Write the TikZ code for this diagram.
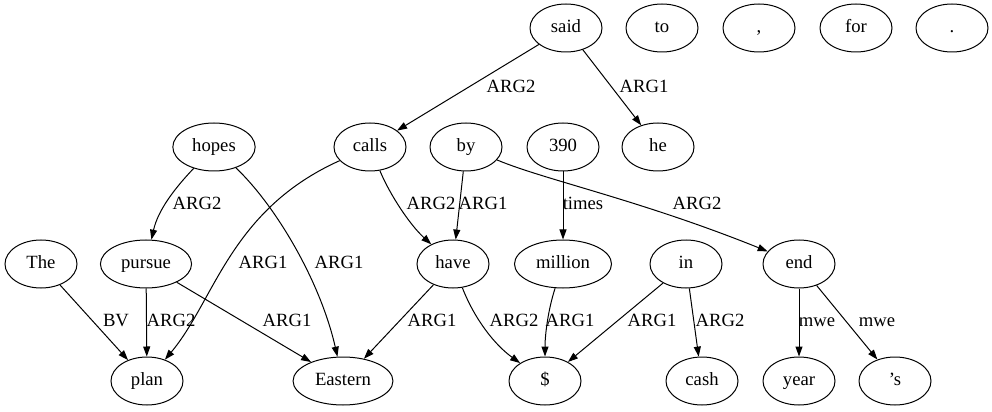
\documentclass[tikz,border=0pt]{standalone}
\usepackage{fontspec}
\setmainfont{Liberation Serif}
\usetikzlibrary{arrows.meta,shapes.geometric}
\begin{document}
\begin{tikzpicture}[x=0.75pt,y=0.75pt,font=\fontsize{14}{17}\selectfont,
  word/.style={draw,ellipse,line width=0.75pt,minimum width=54pt,minimum height=36pt,inner xsep=5.5pt,inner ysep=2pt,text height=9.5pt,text depth=3pt},
  rel/.style={-{Triangle[length=7.5pt,width=5.25pt]},line width=0.75pt},
  lbl/.style={inner sep=0pt,text height=9.5pt,text depth=3pt}]
\useasboundingbox (0,0) rectangle (992,411);
\node[word] (said) at (566,383) {said};
\node[word] (to) at (662,383) {to};
\node[word] (comma) at (759,383) {,};
\node[word] (for) at (856,383) {for};
\node[word] (dot) at (952,383) {.};
\node[word] (hopes) at (214,264) {hopes};
\node[word] (calls) at (370,264) {calls};
\node[word] (by) at (466,264) {by};
\node[word] (n390) at (563,264) {390};
\node[word] (he) at (658,264) {he};
\node[word] (The) at (41,147) {The};
\node[word] (pursue) at (146,147) {pursue};
\node[word] (have) at (453,147) {have};
\node[word] (million) at (563,147) {million};
\node[word] (in) at (686,147) {in};
\node[word] (end) at (799,147) {end};
\node[word] (plan) at (147,30) {plan};
\node[word] (Eastern) at (343,30) {Eastern};
\node[word] (dollar) at (545,30) {\$};
\node[word] (cash) at (702,30) {cash};
\node[word] (year) at (799,30) {year};
\node[word] (s) at (895,30) {’s};
\draw[rel] (said) -- (calls) node[lbl] at (511,323) {ARG2};
\draw[rel] (said) -- (he) node[lbl] at (644,323) {ARG1};
\draw[rel] (hopes) .. controls (175,223) and (158,201) .. (pursue) node[lbl] at (197,206) {ARG2};
\draw[rel] (hopes) .. controls (275,206) and (320,131) .. (Eastern) node[lbl] at (339,147) {ARG1};
\draw[rel] (calls) .. controls (230,201) and (215,111) .. (plan) node[lbl] at (263,147) {ARG1};
\draw[rel] (calls) .. controls (390,216) and (410,186) .. (have) node[lbl] at (431,206) {ARG2};
\draw[rel] (by) -- (have) node[lbl] at (483,206) {ARG1};
\draw[rel] (by) .. controls (545,231) and (640,211) .. (end) node[lbl] at (697,206) {ARG2};
\draw[rel] (n390) -- (million) node[lbl] at (583,206) {times};
\draw[rel] (The) -- (plan) node[lbl] at (116,89) {BV};
\draw[rel] (pursue) -- (plan) node[lbl] at (171,89) {ARG2};
\draw[rel] (pursue) -- (Eastern) node[lbl] at (287,89) {ARG1};
\draw[rel] (have) -- (Eastern) node[lbl] at (432,89) {ARG1};
\draw[rel] (have) .. controls (475,91) and (495,66) .. (dollar) node[lbl] at (514,89) {ARG2};
\draw[rel] (million) .. controls (548,101) and (545,76) .. (dollar) node[lbl] at (570,89) {ARG1};
\draw[rel] (in) -- (dollar) node[lbl] at (652,89) {ARG1};
\draw[rel] (in) -- (cash) node[lbl] at (720,89) {ARG2};
\draw[rel] (end) -- (year) node[lbl] at (817,89) {mwe};
\draw[rel] (end) -- (s) node[lbl] at (877,89) {mwe};
\end{tikzpicture}
\end{document}
